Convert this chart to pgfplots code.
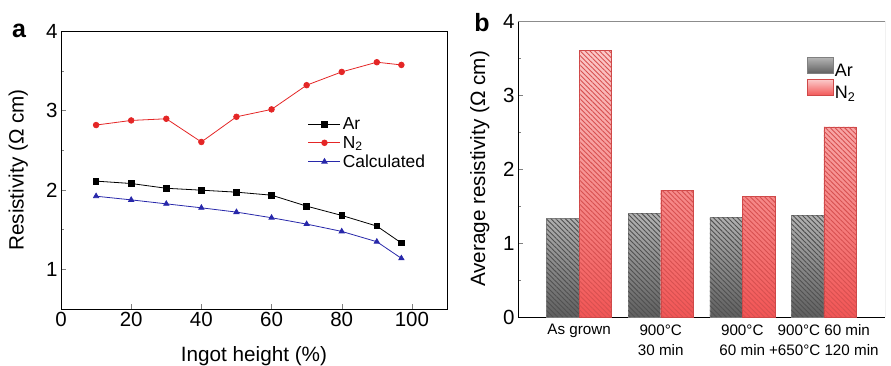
\documentclass[border=0pt]{standalone}
\usepackage{pgfplots}
\pgfplotsset{compat=1.18}
\usepackage{fontspec}
\setmainfont{Liberation Sans}
\usetikzlibrary{patterns,patterns.meta}
\definecolor{nred}{RGB}{228,38,38}
\definecolor{cblue}{RGB}{40,40,170}
\definecolor{arbot}{RGB}{95,95,95}
\definecolor{artop}{RGB}{180,180,180}
\definecolor{nbot}{RGB}{242,85,85}
\definecolor{ntop}{RGB}{251,200,200}
\definecolor{arhatch}{RGB}{80,80,80}
\definecolor{nhatch}{RGB}{215,80,80}
\tikzset{arhatch/.style={pattern={Lines[angle=-45, distance=3.4pt, line width=0.9pt]}, pattern color=arhatch},
         nhatch/.style={pattern={Lines[angle=-45, distance=3.4pt, line width=0.9pt]}, pattern color=nhatch}}
\begin{document}
\begin{tikzpicture}
\useasboundingbox (0pt,0pt) rectangle (891pt,365pt);
% Panel a
\begin{axis}[
  at={(61pt,56pt)}, anchor=south west,
  scale only axis, width=386pt, height=278pt,
  xmin=0, xmax=110, ymin=0.5, ymax=4,
  xtick={0,20,40,60,80,100},
  ytick={1,2,3,4}, minor ytick={1.5,2.5,3.5},
  tick pos=left, tick align=inside,
  major tick length=5pt, minor tick length=3pt,
  tick label style={font=\fontsize{20.5}{22}\selectfont},
  /pgf/number format/assume math mode=true,
  xlabel={Ingot height (\%)},
  ylabel={Resistivity (Ω cm)},
  label style={font=\fontsize{20.7}{22}\selectfont},
  xlabel style={at={(axis description cs:0.5,-0.17)}, anchor=center},
  ylabel style={at={(axis description cs:-0.111,0.5)}, anchor=center},
  legend style={at={(axis description cs:0.637,0.70)}, anchor=north west, draw=none, fill=none,
    font=\fontsize{17.4}{19}\selectfont, row sep=1pt, inner sep=1pt},
  legend cell align=left,
  legend image code/.code={\draw[#1] (0pt,0pt) -- (32pt,0pt); \draw[#1, only marks] plot coordinates {(16pt,0pt)};},
]
\addplot[black, line width=0.8pt, mark=square*, mark size=2.8pt] coordinates {
(10,2.11) (20,2.08) (30,2.02) (40,1.996) (50,1.971) (60,1.933) (70,1.795) (80,1.678) (90,1.544) (97,1.331)};
\addlegendentry{Ar}
\addplot[nred, line width=0.8pt, mark=*, mark size=2.8pt] coordinates {
(10,2.816) (20,2.874) (30,2.895) (40,2.603) (50,2.92) (60,3.013) (70,3.318) (80,3.485) (90,3.607) (97,3.573)};
\addlegendentry{N\textsubscript{2}}
\addplot[cblue, line width=0.8pt, mark=triangle*, mark size=3pt] coordinates {
(10,1.92) (20,1.874) (30,1.824) (40,1.774) (50,1.72) (60,1.649) (70,1.569) (80,1.477) (90,1.347) (97,1.138)};
\addlegendentry{Calculated}
\end{axis}
\node[font=\bfseries\fontsize{25}{26}\selectfont] at (19pt,334pt) {a};
% Panel b
\begin{axis}[
  at={(518pt,48pt)}, anchor=south west,
  scale only axis, width=367pt, height=296pt,
  xmin=0.25, xmax=4.75, ymin=0, ymax=4,
  xtick={1,2,3,4},
  xticklabels={As grown, 900°C\\30 min, 900°C\\60 min, 900°C 60 min\\+650°C 120 min},
  ytick={0,1,2,3,4}, minor ytick={0.5,1.5,2.5,3.5},
  axis x line*=bottom, axis y line*=left,
  tick align=inside,
  major tick length=5pt, minor tick length=3pt,
  x tick style={draw=none},
  yticklabel style={font=\fontsize{20.5}{22}\selectfont},
  xticklabel style={font=\fontsize{15.2}{20}\selectfont, align=center, anchor=north, yshift=1pt},
  /pgf/number format/assume math mode=true,
  ylabel={Average resistivity (Ω cm)},
  label style={font=\fontsize{20.7}{22}\selectfont},
  ylabel style={at={(axis description cs:-0.104,0.5)}, anchor=center},
  ybar, bar width=32.5pt,
  legend style={at={(axis description cs:0.787,0.878)}, anchor=north west, draw=none, fill=none,
    font=\fontsize{18}{18}\selectfont, row sep=0pt, inner sep=0pt,
    nodes={inner sep=1.5pt}},
  legend cell align=left,
]
\addplot[bar shift=-16.25pt, draw=black!50, bottom color=arbot, top color=artop,
  legend image code/.code={\path[draw=black!50, bottom color=arbot, top color=artop] (0pt,-2.5pt) rectangle (26pt,13.5pt); \path[arhatch] (0pt,-2.5pt) rectangle (26pt,13.5pt);}] coordinates {
(1,1.33) (2,1.405) (3,1.351) (4,1.378)};
\addlegendentry{Ar}
\addplot[bar shift=-16.25pt, draw=none, arhatch, forget plot] coordinates {
(1,1.33) (2,1.405) (3,1.351) (4,1.378)};
\addplot[bar shift=16.25pt, draw=nbot!85!black, bottom color=nbot, top color=ntop,
  legend image code/.code={\path[draw=nbot!85!black, bottom color=nbot, top color=ntop] (0pt,-2.5pt) rectangle (26pt,13.5pt); \path[nhatch] (0pt,-2.5pt) rectangle (26pt,13.5pt);}] coordinates {
(1,3.60) (2,1.716) (3,1.63) (4,2.568)};
\addlegendentry{N\textsubscript{2}}
\addplot[bar shift=16.25pt, draw=none, nhatch, forget plot] coordinates {
(1,3.60) (2,1.716) (3,1.63) (4,2.568)};
\draw[black!45] (rel axis cs:0,1) -- (rel axis cs:1,1) -- (rel axis cs:1,0);
\end{axis}
\node[font=\bfseries\fontsize{25}{26}\selectfont] at (482pt,342pt) {b};
\end{tikzpicture}
\end{document}
